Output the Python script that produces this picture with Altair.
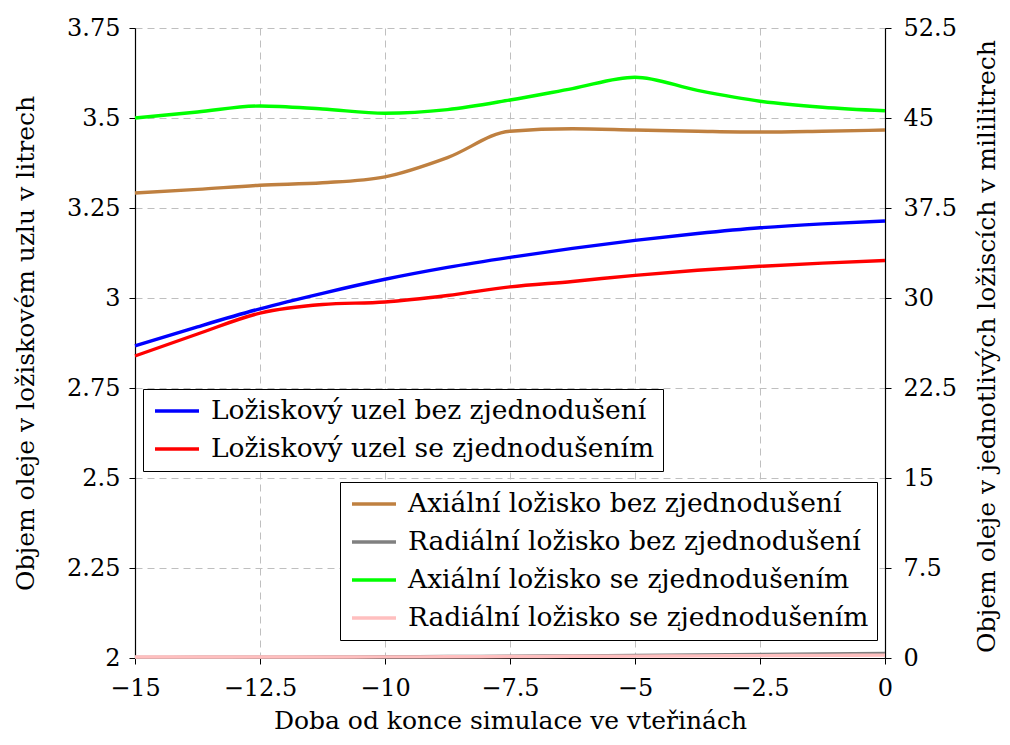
import altair as alt
import pandas as pd

# time axis (seconds before end of simulation)
x_vals = [-15, -13.75, -12.5, -11.25, -10, -8.75, -7.5, -6.25, -5, -3.75, -2.5, -1.25, 0]

# left axis (litres)
uzel_bez = [2.867, 2.920, 2.970, 3.013, 3.052, 3.085, 3.113, 3.138, 3.160, 3.179, 3.195, 3.206, 3.214]
uzel_se = [2.839, 2.900, 2.958, 2.982, 2.989, 3.007, 3.031, 3.046, 3.063, 3.077, 3.088, 3.097, 3.104]

# right axis (millilitres)
axial_bez = [38.75, 39.05, 39.4, 39.6, 40.1, 41.7, 43.9, 44.1, 44.0, 43.9, 43.83, 43.9, 44.0]
radial_bez = [0.05, 0.06, 0.07, 0.08, 0.10, 0.12, 0.15, 0.18, 0.22, 0.26, 0.30, 0.34, 0.38]
axial_se = [45.0, 45.5, 46.0, 45.75, 45.4, 45.7, 46.5, 47.45, 48.4, 47.3, 46.4, 45.9, 45.6]
radial_se = [0.08, 0.08, 0.08, 0.085, 0.09, 0.10, 0.12, 0.14, 0.16, 0.18, 0.20, 0.22, 0.24]

left_names = ["Ložiskový uzel bez zjednodušení", "Ložiskový uzel se zjednodušením"]
left_colors = ["#0000ff", "#ff0000"]
right_names = ["Axiální ložisko bez zjednodušení", "Radiální ložisko bez zjednodušení",
               "Axiální ložisko se zjednodušením", "Radiální ložisko se zjednodušením"]
right_colors = ["#bf8040", "#808080", "#00ff00", "#ffbfbf"]

left_ticks = [2, 2.25, 2.5, 2.75, 3, 3.25, 3.5, 3.75]
right_ticks = [0, 7.5, 15, 22.5, 30, 37.5, 45, 52.5]
x_ticks = [-15, -12.5, -10, -7.5, -5, -2.5, 0]

rows_l = []
for name, ys in zip(left_names, [uzel_bez, uzel_se]):
    for xv, yv in zip(x_vals, ys):
        rows_l.append({"t": xv, "v": yv, "s": name, "o": left_names.index(name)})
df_l = pd.DataFrame(rows_l)

rows_r = []
for name, ys in zip(right_names, [axial_bez, radial_bez, axial_se, radial_se]):
    for xv, yv in zip(x_vals, ys):
        rows_r.append({"t": xv, "v": yv, "s": name, "o": right_names.index(name)})
df_r = pd.DataFrame(rows_r)

FONT = "DejaVu Serif"
FS = 24
LBL = "format(datum.value, '~g')"

x_enc = alt.X("t:Q", scale=alt.Scale(domain=[-15, 0], nice=False),
              axis=alt.Axis(values=x_ticks, labelExpr=LBL, labelFlush=False, labelOverlap=False,
                            title="Doba od konce simulace ve vteřinách",
                            grid=True, titleY=62, titleBaseline="middle",
                            labelPadding=12))

leg_common = dict(orient="none", title=None, strokeColor="black", fillColor="white",
                  padding=8, cornerRadius=0, symbolType="M-0.833,0H2.833", symbolSize=576,
                  symbolStrokeWidth=3.4, labelOffset=32, labelFont=FONT, labelFontSize=26.5,
                  labelColor="black", rowPadding=10, labelLimit=0)

left = alt.Chart(df_l).mark_line(strokeWidth=3.4, interpolate="monotone").encode(
    x=x_enc,
    y=alt.Y("v:Q", scale=alt.Scale(domain=[2, 3.75], nice=False, zero=False),
            axis=alt.Axis(values=left_ticks, labelExpr=LBL, orient="left", grid=True,
                          labelFlush=False, labelOverlap=False,
                          title="Objem oleje v ložiskovém uzlu v litrech",
                          titleX=-110, titleY=315, titleAngle=270, titleBaseline="middle",
                          labelPadding=9)),
    color=alt.Color("s:N", scale=alt.Scale(domain=left_names, range=left_colors),
                    legend=alt.Legend(legendX=8, legendY=361, **leg_common)),
    order="o:Q",
)

right = alt.Chart(df_r).mark_line(strokeWidth=3.4, interpolate="monotone").encode(
    x=x_enc,
    y=alt.Y("v:Q", scale=alt.Scale(domain=[0, 52.5], nice=False),
            axis=alt.Axis(values=right_ticks, labelExpr=LBL, orient="right", grid=False,
                          labelFlush=False, labelOverlap=False,
                          title="Objem oleje v jednotlivých ložiscích v mililitrech",
                          titleX=101, titleY=318, titleAngle=270, titleBaseline="middle",
                          labelPadding=12)),
    color=alt.Color("s:N", scale=alt.Scale(domain=right_names, range=right_colors),
                    legend=alt.Legend(legendX=205, legendY=454, **leg_common)),
    detail="s:N",
)

chart = alt.layer(left, right).resolve_scale(
    y="independent", color="independent"
).properties(
    width=750, height=630,
    autosize=alt.AutoSizeParams(type="none"),
    padding={"left": 127, "top": 20, "right": 117, "bottom": 79},
).configure_view(stroke=None).configure_axis(
    labelFont=FONT, labelFontSize=FS, labelColor="black",
    titleFont=FONT, titleFontSize=25, titleFontWeight="normal", titleColor="black",
    domainColor="black", domainWidth=1.2, tickColor="black", tickSize=6,
    gridColor="#bfbfbf", gridDash=[7, 5], gridWidth=1, gridOpacity=1,
)

chart.save("out.html", embed_options={"renderer": "svg", "actions": False})
